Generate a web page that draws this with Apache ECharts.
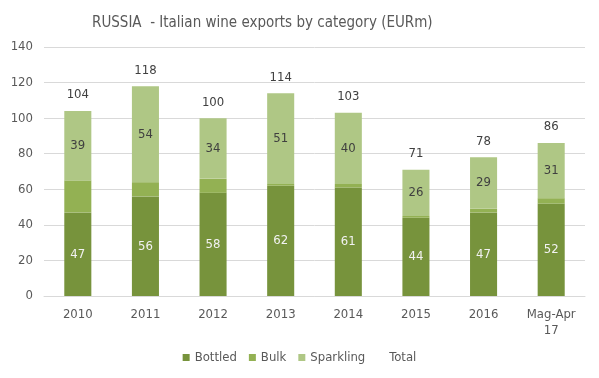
<!DOCTYPE html>
<html>
<head>
<meta charset="utf-8">
<script src="https://cdn.jsdelivr.net/npm/echarts@6/dist/echarts.min.js"></script>
<style>
  html, body { margin: 0; padding: 0; background: #fff; }
  #chart { width: 599px; height: 378px; }
</style>
</head>
<body>
<div id="chart"></div>
<script>
const categories = ['2010', '2011', '2012', '2013', '2014', '2015', '2016', 'Mag-Apr\n17']
const bottled = [47, 56, 58, 62, 61, 44, 47, 52]
const bulk = [18, 8, 8, 1, 2, 1, 2, 3]
const sparkling = [39, 54, 34, 51, 40, 26, 29, 31]
const total = [104, 118, 100, 114, 103, 71, 78, 86]

// narrow look like the original; font-stretch goes into the canvas font string
const font = '"DejaVu Sans", sans-serif'
const stretch = 'condensed'
const grey = '#595959'

const chart = echarts.init(document.getElementById('chart'))
chart.setOption({
  animation: false,
  textStyle: { fontFamily: font, fontStyle: stretch },
  title: {
    text: 'RUSSIA  - Italian wine exports by category (EURm)',
    left: 87,
    top: 11,
    textStyle: { fontFamily: font, fontStyle: stretch, fontSize: 15, fontWeight: 'normal', color: grey }
  },
  grid: { left: 44, right: 14, top: 47, bottom: 82 },
  legend: {
    bottom: 9,
    icon: 'rect',
    itemWidth: 7,
    itemHeight: 7,
    itemGap: 12,
    textStyle: { fontFamily: font, fontStyle: stretch, fontSize: 13, color: grey },
    data: ['Bottled', 'Bulk', 'Sparkling', { name: 'Total', icon: 'rect', itemStyle: { opacity: 0 } }]
  },
  xAxis: {
    type: 'category',
    data: categories,
    axisTick: { show: false },
    axisLine: { lineStyle: { color: '#d9d9d9' } },
    axisLabel: { fontFamily: font, fontStyle: stretch, color: grey, fontSize: 13, margin: 11, lineHeight: 16 }
  },
  yAxis: {
    type: 'value',
    min: 0,
    max: 140,
    interval: 20,
    axisLabel: { fontFamily: font, fontStyle: stretch, color: grey, fontSize: 13, margin: 11 },
    splitLine: { lineStyle: { color: '#d9d9d9' } }
  },
  series: [
    {
      name: 'Bottled', type: 'bar', stack: 'a', barWidth: '40%',
      data: bottled,
      itemStyle: { color: '#77933c' },
      label: { show: true, position: 'inside', fontFamily: font, fontStyle: stretch, color: '#f2f2f2', fontSize: 13 }
    },
    {
      name: 'Bulk', type: 'bar', stack: 'a',
      data: bulk,
      itemStyle: { color: '#93b153' }
    },
    {
      name: 'Sparkling', type: 'bar', stack: 'a',
      data: sparkling,
      itemStyle: { color: '#afc785' },
      label: { show: true, position: 'inside', fontFamily: font, fontStyle: stretch, color: '#404040', fontSize: 13 }
    },
    {
      name: 'Total', type: 'line',
      data: total,
      symbol: 'circle',
      symbolSize: 1,
      lineStyle: { opacity: 0 },
      itemStyle: { color: 'transparent' },
      label: { show: true, position: 'top', distance: 9, fontFamily: font, fontStyle: stretch, color: '#404040', fontSize: 13 }
    }
  ]
})
</script>
</body>
</html>
